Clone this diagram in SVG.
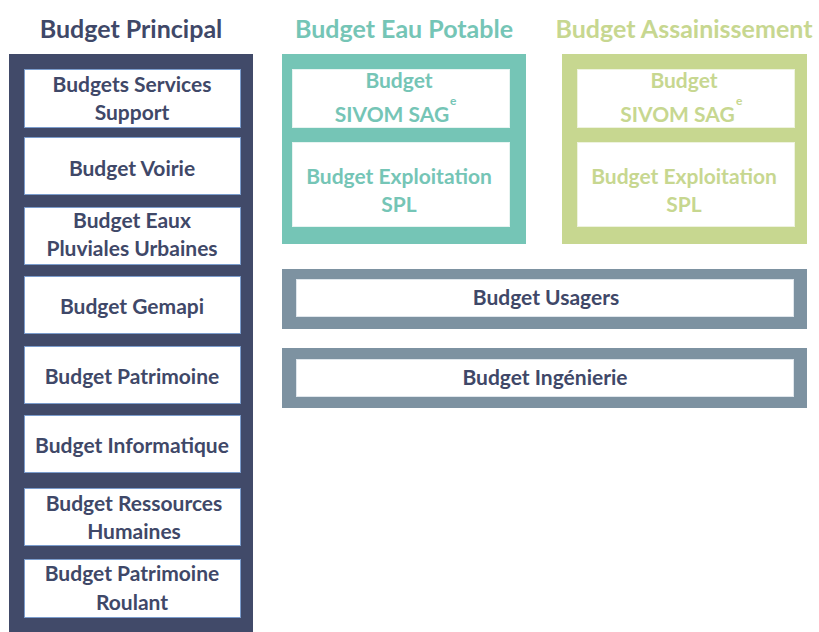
<svg xmlns="http://www.w3.org/2000/svg" width="819" height="632" viewBox="0 0 819 632">
<style>
text{font-family:Lato,"Open Sans","Liberation Sans",sans-serif;font-weight:bold;text-anchor:middle}
.title{font-size:25px}
.lbl{font-size:21px}
.sup{font-size:12px;text-anchor:start}
.navy{fill:#414a69}
.teal{fill:#75c5b6}
.green{fill:#c7d790}
.gray{fill:#7d92a1}
.tnavy{fill:#3f4868}
.tteal{fill:#75c5b6}
.tgreen{fill:#c7d790}
.inN{fill:#ffffff;stroke:#7b9ccc;stroke-width:1}
.inT{fill:#ffffff;stroke:#e6f4f1;stroke-width:1}
.inG{fill:#ffffff;stroke:#eef3de;stroke-width:1}
.inY{fill:#ffffff;stroke:#dfe6ec;stroke-width:1}
</style>
<rect width="819" height="632" fill="#ffffff"/>

<g id="principal">
  <text class="title tnavy" x="131" y="38">Budget Principal</text>
  <rect class="navy" x="9" y="54" width="244" height="590"/>
  <g id="n-support">
    <rect class="inN" x="24.5" y="69.5" width="216" height="58"/>
    <text class="lbl tnavy" x="132" y="92">Budgets Services</text>
    <text class="lbl tnavy" x="132" y="120">Support</text>
  </g>
  <g id="n-voirie">
    <rect class="inN" x="24.5" y="137.5" width="216" height="57"/>
    <text class="lbl tnavy" x="132" y="175.5">Budget Voirie</text>
  </g>
  <g id="n-eaux">
    <rect class="inN" x="24.5" y="207.5" width="216" height="57"/>
    <text class="lbl tnavy" x="132" y="228">Budget Eaux</text>
    <text class="lbl tnavy" x="132" y="255.5">Pluviales Urbaines</text>
  </g>
  <g id="n-gemapi">
    <rect class="inN" x="24.5" y="276.5" width="216" height="57"/>
    <text class="lbl tnavy" x="132" y="314">Budget Gemapi</text>
  </g>
  <g id="n-patrimoine">
    <rect class="inN" x="24.5" y="346.5" width="216" height="57"/>
    <text class="lbl tnavy" x="132" y="384">Budget Patrimoine</text>
  </g>
  <g id="n-informatique">
    <rect class="inN" x="24.5" y="415.5" width="216" height="57"/>
    <text class="lbl tnavy" x="132" y="452.5">Budget Informatique</text>
  </g>
  <g id="n-rh">
    <rect class="inN" x="24.5" y="488.5" width="216" height="57"/>
    <text class="lbl tnavy" x="134" y="510.5">Budget Ressources</text>
    <text class="lbl tnavy" x="134" y="538.5">Humaines</text>
  </g>
  <g id="n-roulant">
    <rect class="inN" x="24.5" y="559.5" width="216" height="58"/>
    <text class="lbl tnavy" x="132" y="581">Budget Patrimoine</text>
    <text class="lbl tnavy" x="132" y="609.5">Roulant</text>
  </g>
</g>

<g id="eau-potable">
  <text class="title tteal" x="404" y="38">Budget Eau Potable</text>
  <rect class="teal" x="282" y="54" width="244" height="190"/>
  <g id="n-ep-sivom">
    <rect class="inT" x="292.5" y="69.5" width="217" height="58"/>
    <text class="lbl tteal" x="399" y="88">Budget</text>
    <text class="lbl tteal" x="392" y="122">SIVOM SAG</text>
    <text class="sup tteal" x="450" y="105">e</text>
  </g>
  <g id="n-ep-spl">
    <rect class="inT" x="292.5" y="142.5" width="217" height="84"/>
    <text class="lbl tteal" x="399" y="184">Budget Exploitation</text>
    <text class="lbl tteal" x="399" y="212">SPL</text>
  </g>
</g>

<g id="assainissement">
  <text class="title tgreen" x="684" y="38">Budget Assainissement</text>
  <rect class="green" x="562" y="54" width="245" height="190"/>
  <g id="n-as-sivom">
    <rect class="inG" x="577.5" y="69.5" width="217" height="58"/>
    <text class="lbl tgreen" x="684" y="88">Budget</text>
    <text class="lbl tgreen" x="677.5" y="122">SIVOM SAG</text>
    <text class="sup tgreen" x="736" y="105">e</text>
  </g>
  <g id="n-as-spl">
    <rect class="inG" x="577.5" y="142.5" width="217" height="84"/>
    <text class="lbl tgreen" x="684" y="184">Budget Exploitation</text>
    <text class="lbl tgreen" x="684" y="212">SPL</text>
  </g>
</g>

<g id="usagers">
  <rect class="gray" x="282" y="269" width="525" height="60"/>
  <rect class="inY" x="296.5" y="279.5" width="497" height="37"/>
  <text class="lbl tnavy" x="546" y="305">Budget Usagers</text>
</g>

<g id="ingenierie">
  <rect class="gray" x="282" y="348" width="525" height="60"/>
  <rect class="inY" x="296.5" y="359.5" width="497" height="37"/>
  <text class="lbl tnavy" x="545" y="384.5">Budget Ingénierie</text>
</g>

<g id="connectors"></g>
</svg>
